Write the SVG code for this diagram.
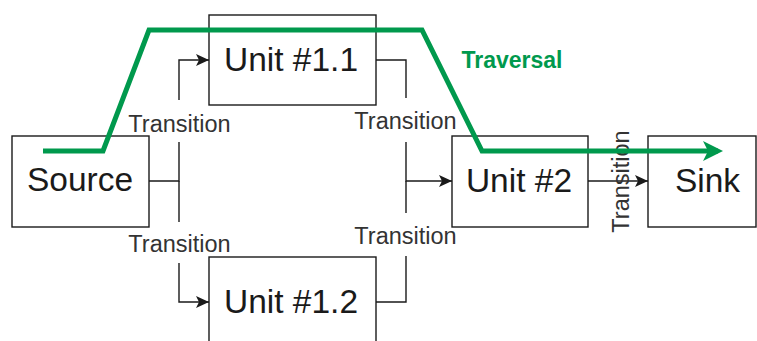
<svg xmlns="http://www.w3.org/2000/svg" width="757" height="341" viewBox="0 0 757 341">
<style>
.box{fill:#fff;stroke:#1a1a1a;stroke-width:1.4}
.lbl{font-family:"Liberation Sans",Arial,sans-serif;font-size:33.5px;fill:#1a1a1a;text-anchor:middle}
.tr{font-family:"Liberation Sans",Arial,sans-serif;font-size:23.5px;fill:#333;text-anchor:middle}
.edge{fill:none;stroke:#1a1a1a;stroke-width:1.4}
.trav{fill:none;stroke:#00994D;stroke-width:5;stroke-linejoin:miter}
</style>
<defs>
<marker id="arr" viewBox="0 0 13 12" refX="13" refY="6" markerWidth="13" markerHeight="12" markerUnits="userSpaceOnUse" orient="auto">
<path d="M0,0 L13,6 L0,12 L3,6 Z" fill="#1a1a1a"/>
</marker>
<marker id="garr" viewBox="0 0 20 20" refX="15" refY="10" markerWidth="20" markerHeight="20" markerUnits="userSpaceOnUse" orient="auto">
<path d="M0,0 L20,10 L0,20 L5,10 Z" fill="#00994D"/>
</marker>
</defs>
<g id="source"><rect class="box" x="12" y="136" width="137" height="91"/><text class="lbl" x="80" y="191">Source</text></g>
<g id="unit11"><rect class="box" x="209" y="15" width="167" height="90"/><text class="lbl" x="291" y="71">Unit #1.1</text></g>
<g id="unit12"><rect class="box" x="209" y="257" width="167" height="90"/><text class="lbl" x="291" y="313">Unit #1.2</text></g>
<g id="unit2"><rect class="box" x="452" y="136" width="136" height="91"/><text class="lbl" x="519" y="192">Unit #2</text></g>
<g id="sink"><rect class="box" x="648" y="136" width="108" height="91"/><text class="lbl" x="707.5" y="192">Sink</text></g>
<g id="connectors">
<path class="edge" d="M149,181 H179 V142 M179,100 V60 H209" marker-end="url(#arr)"/>
<path class="edge" d="M179,181 V222 M179,263 V302 H209" marker-end="url(#arr)"/>
<path class="edge" d="M376,60 H406 V98 M406,142 V181 H452" marker-end="url(#arr)"/>
<path class="edge" d="M376,302 H406 V256 M406,213 V181"/>
<path class="edge" d="M588,181 H648" marker-end="url(#arr)"/>
<text class="tr" x="179.5" y="131.5">Transition</text>
<text class="tr" x="179.5" y="251.5">Transition</text>
<text class="tr" x="405.5" y="128.5">Transition</text>
<text class="tr" x="405.5" y="244">Transition</text>
<text class="tr" transform="translate(629,181.5) rotate(-90)">Transition</text>
</g>
<g id="traversal">
<path class="trav" d="M43,151 H103 L149,30 H422 L482,151 H718" marker-end="url(#garr)"/>
<text x="512" y="68" style="font-family:'Liberation Sans',Arial,sans-serif;font-size:23px;font-weight:bold;fill:#00994D;text-anchor:middle">Traversal</text>
</g>
</svg>
